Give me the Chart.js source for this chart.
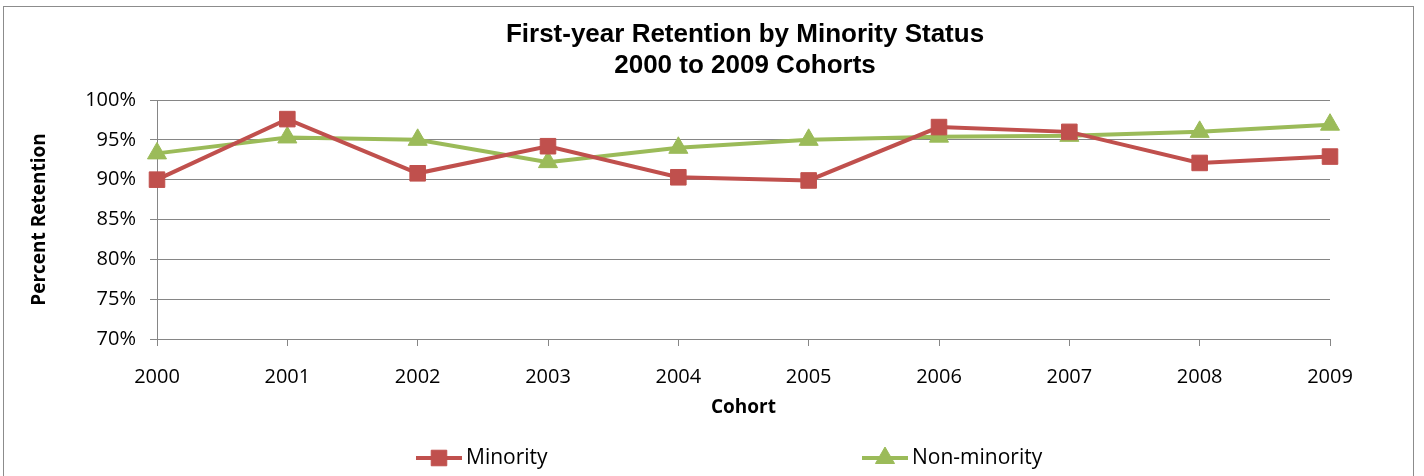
<!DOCTYPE html>
<html>
<head>
<meta charset="utf-8">
<script src="https://cdn.jsdelivr.net/npm/chart.js@4.4.1/dist/chart.umd.min.js"></script>
<style>
  body { margin: 0; background: #fff; }
</style>
</head>
<body>
<canvas id="retentionChart" width="1424" height="476"></canvas>
<script>
const cohorts = ["2000", "2001", "2002", "2003", "2004", "2005", "2006", "2007", "2008", "2009"];
const minority = [90.0, 97.6, 90.8, 94.2, 90.3, 89.9, 96.6, 96.0, 92.1, 92.9];
const nonMinority = [93.3, 95.3, 95.0, 92.2, 94.0, 95.0, 95.4, 95.5, 96.0, 96.9];
const titleLines = ["First-year Retention by Minority Status", "2000 to 2009 Cohorts"];

const red = "#C0504D";
const green = "#9BBB59";
const gridColor = "#868686";
const tickFont = { family: "'Open Sans'", size: 20 };
const axisTitleFont = { family: "'Open Sans'", size: 19, weight: "bold" };

// title, outer frame and legend drawn by hand, Excel style
const excelBits = {
  id: "excelBits",
  beforeDraw(chart) {
    const ctx = chart.ctx;
    ctx.save();
    ctx.fillStyle = "#fff";
    ctx.fillRect(0, 0, chart.width, chart.height);
    ctx.restore();
  },
  afterDraw(chart) {
    const ctx = chart.ctx;
    ctx.save();
    ctx.strokeStyle = "#8c8c8c";
    ctx.lineWidth = 1;
    ctx.strokeRect(3.5, 6.5, 1410, 480);

    ctx.fillStyle = "#000";
    ctx.font = "bold 26px 'Liberation Sans'";
    ctx.textAlign = "center";
    ctx.textBaseline = "alphabetic";
    ctx.fillText(titleLines[0], 745, 42);
    ctx.fillText(titleLines[1], 745, 73);

    const items = [
      { label: "Minority", color: red, style: "rect", x: 416 },
      { label: "Non-minority", color: green, style: "triangle", x: 862 },
    ];
    const ly = 458;
    ctx.font = "21px 'Open Sans'";
    ctx.textAlign = "left";
    ctx.textBaseline = "middle";
    items.forEach((it) => {
      ctx.strokeStyle = it.color;
      ctx.lineWidth = 4;
      ctx.beginPath();
      ctx.moveTo(it.x, ly);
      ctx.lineTo(it.x + 46, ly);
      ctx.stroke();
      ctx.fillStyle = it.color;
      ctx.strokeStyle = it.color;
      ctx.lineWidth = 1;
      Chart.helpers.drawPoint(ctx, { pointStyle: it.style, radius: 11, rotation: 0, borderWidth: 1 }, it.x + 23, ly);
      ctx.fillStyle = "#000";
      ctx.fillText(it.label, it.x + 50, ly);
    });
    ctx.restore();
  },
};

new Chart(document.getElementById("retentionChart"), {
  type: "line",
  data: {
    labels: cohorts,
    datasets: [
      {
        label: "Minority",
        data: minority,
        borderColor: red,
        backgroundColor: red,
        borderWidth: 4,
        pointStyle: "rect",
        pointRadius: 11,
        pointBorderWidth: 1,
        tension: 0,
      },
      {
        label: "Non-minority",
        data: nonMinority,
        borderColor: green,
        backgroundColor: green,
        borderWidth: 4,
        pointStyle: "triangle",
        pointRadius: 11,
        pointBorderWidth: 1,
        tension: 0,
      },
    ],
  },
  options: {
    responsive: false,
    animation: false,
    layout: { padding: { top: 100, left: 0, right: 94, bottom: 57 } },
    plugins: {
      legend: { display: false },
      title: { display: false },
      tooltip: { enabled: false },
    },
    scales: {
      x: {
        grid: { drawOnChartArea: false, color: gridColor, tickLength: 7 },
        border: { color: gridColor, width: 1 },
        ticks: { font: tickFont, color: "#000", padding: 19, maxRotation: 0 },
        title: { display: true, text: "Cohort", font: axisTitleFont, color: "#000", padding: { top: 0, bottom: 0 } },
        afterFit: (s) => { s.height = 80; },
      },
      y: {
        min: 70,
        max: 100,
        ticks: {
          stepSize: 5,
          font: tickFont,
          color: "#000",
          padding: 14,
          callback: (v) => v + "%",
        },
        grid: { color: gridColor, tickLength: 7 },
        border: { color: gridColor, width: 1 },
        title: { display: true, text: "Percent Retention", font: axisTitleFont, color: "#000", padding: { top: 28, bottom: 0 } },
        afterFit: (s) => { s.width = 157; },
      },
    },
  },
  plugins: [excelBits],
});
</script>
</body>
</html>
